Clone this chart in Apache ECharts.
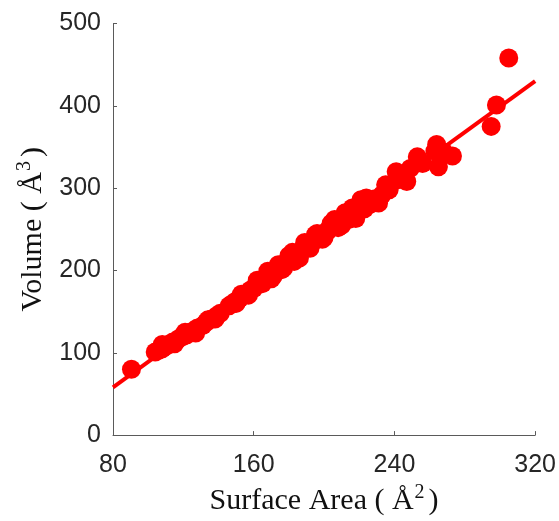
<!DOCTYPE html>
<html>
<head>
<meta charset="utf-8">
<script src="https://cdn.jsdelivr.net/npm/echarts@6/dist/echarts.min.js"></script>
<style>
  html, body { margin: 0; padding: 0; background: #fff; }
  #chart { width: 559px; height: 521px; }
</style>
</head>
<body>
<div id="chart"></div>
<script>
// Molecular surface area (Å²) vs volume (Å³)
const surfaceArea = [
  90.5,
  104, 106, 108, 110, 112, 114, 116, 118, 120, 122, 124, 126, 128, 131, 133, 136, 139, 141,
  146, 148, 150, 152, 154, 156, 158, 160, 161, 163, 164, 166, 167, 169, 170, 172, 173, 175,
  176, 178, 179, 181, 182, 184, 185, 187, 188, 190, 191, 193, 195, 197, 198, 200, 202, 203,
  205, 207, 209, 211, 213, 215, 217, 219, 220, 222,
  170, 176, 182, 186, 195, 200, 206, 210, 218, 221,
  108, 115, 121, 127, 134, 138, 150, 153, 157, 162, 165, 168, 171, 174, 177, 180, 183, 189,
  192, 196, 199, 204, 208, 212, 214, 216, 223, 224,
  226, 229, 231, 233, 235, 237, 241, 241, 245, 247, 249, 253, 256, 263, 264, 265, 268, 273,
  295, 298, 305
];
const volume = [
  80,
  101, 103, 105, 108, 110, 113, 115, 118, 120, 122, 125, 127, 130, 133, 137, 141, 145, 148,
  157, 160, 163, 166, 170, 172, 176, 178, 181, 184, 186, 189, 191, 194, 196, 199, 201, 204,
  206, 209, 211, 214, 216, 219, 221, 224, 226, 229, 231, 234, 237, 240, 243, 245, 248, 251,
  254, 257, 259, 262, 266, 268, 272, 275, 279, 283,
  190, 201, 222, 215, 243, 240, 262, 255, 263, 286,
  110, 111, 125, 124, 140, 141, 160, 171, 170, 188, 184, 199, 193, 207, 203, 218, 211, 234,
  227, 245, 238, 257, 252, 270, 262, 276, 275, 288,
  280, 287, 282, 292, 304, 298, 310, 320, 316, 308, 324, 338, 330, 345, 353, 326, 344, 339,
  375, 401, 458
];
// Linear fit line endpoints
const fitX = [80, 320];
const fitY = [58, 430];

const xTicks = [80, 160, 240, 320];
const yTicks = [0, 100, 200, 300, 400, 500];

const points = surfaceArea.map((s, i) => [s, volume[i]]);
const fitLine = fitX.map((x, i) => [x, fitY[i]]);

const axisGray = '#5a5a5a';
const textDark = '#262626';
const nameRich = {
  t: { fontFamily: 'Liberation Serif', fontSize: 30, color: '#111' },
  s: { fontFamily: 'Liberation Serif', fontSize: 20, color: '#111', padding: [0, 4, 16, 1] }
};

const chart = echarts.init(document.getElementById('chart'), null, { renderer: 'canvas' });
chart.setOption({
  animation: false,
  backgroundColor: '#fff',
  grid: { left: 113, right: 23, top: 23.5, bottom: 77, containLabel: false },
  xAxis: {
    type: 'value',
    min: xTicks[0], max: xTicks[xTicks.length - 1], interval: 80,
    name: '{t|Surface Area ( Å}{s|2}{t|)}',
    nameLocation: 'middle',
    nameGap: 44,
    nameTextStyle: { rich: nameRich },
    axisLine: { show: true, onZero: false, lineStyle: { color: axisGray, width: 1 } },
    axisTick: { show: true, inside: true, length: 4, lineStyle: { color: axisGray } },
    axisLabel: { fontFamily: 'Liberation Sans', fontSize: 25, color: textDark, margin: 18 },
    splitLine: { show: false }
  },
  yAxis: {
    type: 'value',
    min: yTicks[0], max: yTicks[yTicks.length - 1], interval: 100,
    name: '{t|Volume ( Å}{s|3}{t|)}',
    nameLocation: 'middle',
    nameGap: 62,
    nameTextStyle: { rich: nameRich },
    axisLine: { show: true, onZero: false, lineStyle: { color: axisGray, width: 1 } },
    axisTick: { show: true, inside: true, length: 4, lineStyle: { color: axisGray } },
    axisLabel: { fontFamily: 'Liberation Sans', fontSize: 25, color: textDark, margin: 12 },
    splitLine: { show: false }
  },
  series: [
    {
      type: 'line',
      data: fitLine,
      showSymbol: false,
      lineStyle: { color: '#ff0000', width: 4 },
      z: 2
    },
    {
      type: 'scatter',
      data: points,
      symbol: 'circle',
      symbolSize: 19,
      itemStyle: { color: '#ff0000', opacity: 1 },
      z: 3
    }
  ]
});
</script>
</body>
</html>
